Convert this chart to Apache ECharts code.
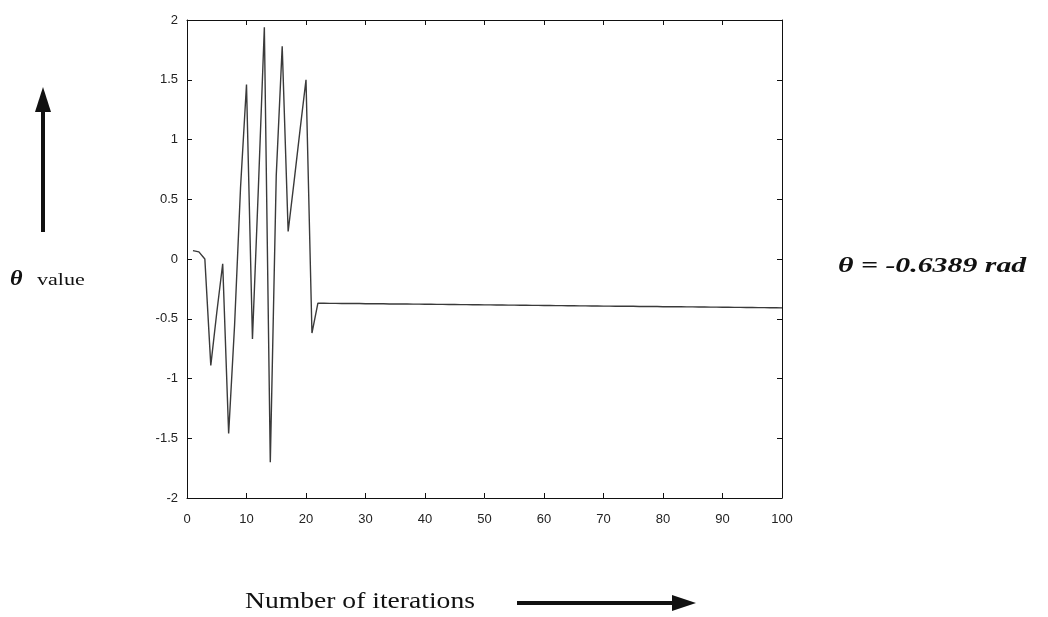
<!DOCTYPE html>
<html>
<head>
<meta charset="utf-8">
<script src="https://cdn.jsdelivr.net/npm/echarts@6/dist/echarts.min.js"></script>
<style>
html,body{margin:0;padding:0;background:#fff;}
#c{width:1048px;height:617px;}
</style>
</head>
<body>
<div id="c"></div>
<script>
// Iterations 1..100 and the theta value at each
const thetaValues = [
  0.07, 0.06, 0.00, -0.89, -0.45, -0.04, -1.46, -0.55, 0.60, 1.46,
  -0.67, 0.60, 1.94, -1.70, 0.70, 1.78, 0.23, 0.65, 1.08, 1.50,
  -0.62, -0.370, -0.370, -0.371, -0.371, -0.372, -0.372, -0.373, -0.373, -0.374,
  -0.374, -0.375, -0.375, -0.376, -0.376, -0.377, -0.377, -0.378, -0.378, -0.379,
  -0.379, -0.380, -0.380, -0.381, -0.381, -0.382, -0.382, -0.383, -0.383, -0.384,
  -0.384, -0.385, -0.385, -0.386, -0.386, -0.387, -0.387, -0.388, -0.388, -0.389,
  -0.389, -0.390, -0.390, -0.391, -0.391, -0.392, -0.392, -0.393, -0.393, -0.394,
  -0.394, -0.395, -0.395, -0.396, -0.396, -0.397, -0.397, -0.398, -0.398, -0.399,
  -0.399, -0.400, -0.400, -0.401, -0.401, -0.402, -0.402, -0.403, -0.403, -0.404,
  -0.404, -0.405, -0.405, -0.406, -0.406, -0.407, -0.407, -0.408, -0.408, -0.409
];
const xTicks = [0, 10, 20, 30, 40, 50, 60, 70, 80, 90, 100];
const yTicks = [-2, -1.5, -1, -0.5, 0, 0.5, 1, 1.5, 2];
const xLabel = 'Number of iterations';
const yLabelSymbol = 'θ';
const yLabelText = 'value';
const resultNote = 'θ = -0.6389 rad';

const seriesData = thetaValues.map((v, i) => [i + 1, v]);

const chart = echarts.init(document.getElementById('c'), null, {renderer: 'canvas'});
const labelFont = {fontFamily: 'Liberation Sans, Arial, sans-serif', fontSize: 13, color: '#222'};
const axisLine = {show: true, onZero: false, lineStyle: {color: '#111', width: 1}};
const tickIn = {show: true, inside: true, length: 5, lineStyle: {color: '#111', width: 1}};

chart.setOption({
  animation: false,
  backgroundColor: '#fff',
  grid: {left: 187, right: 266, top: 20, bottom: 119, containLabel: false},
  xAxis: [
    {type: 'value', min: 0, max: 100, interval: 10, position: 'bottom',
     axisLine: axisLine, axisTick: tickIn, splitLine: {show: false},
     axisLabel: Object.assign({margin: 15}, labelFont)},
    {type: 'value', min: 0, max: 100, interval: 10, position: 'top',
     axisLine: axisLine, axisTick: tickIn, splitLine: {show: false},
     axisLabel: {show: false}}
  ],
  yAxis: [
    {type: 'value', min: -2, max: 2, interval: 0.5, position: 'left',
     axisLine: axisLine, axisTick: tickIn, splitLine: {show: false},
     axisLabel: Object.assign({margin: 9}, labelFont)},
    {type: 'value', min: -2, max: 2, interval: 0.5, position: 'right',
     axisLine: axisLine, axisTick: tickIn, splitLine: {show: false},
     axisLabel: {show: false}}
  ],
  series: [{
    type: 'line',
    data: seriesData,
    xAxisIndex: 0, yAxisIndex: 0,
    showSymbol: false,
    lineStyle: {color: '#3a3a3a', width: 1.4},
    smooth: false
  }],
  graphic: [
    // up arrow (left)
    {type: 'line', shape: {x1: 43, y1: 232, x2: 43, y2: 108}, style: {stroke: '#111', lineWidth: 4}},
    {type: 'polygon', shape: {points: [[35, 112], [51, 112], [43, 87]]}, style: {fill: '#111'}},
    // theta value label
    {type: 'text', x: 10, y: 269, scaleX: 1.15, style: {text: yLabelSymbol, font: 'italic bold 21px "Liberation Serif", serif', fill: '#111'}},
    {type: 'text', x: 37, y: 272, scaleX: 1.3, style: {text: yLabelText, font: '17px "Liberation Serif", serif', fill: '#111'}},
    // result note (right)
    {type: 'text', x: 838, y: 256, scaleX: 1.42, style: {text: resultNote, font: 'italic bold 21px "Liberation Serif", serif', fill: '#111'}},
    // x label and arrow
    {type: 'text', x: 245, y: 590, scaleX: 1.2, style: {text: xLabel, font: '23px "Liberation Serif", serif', fill: '#111'}},
    {type: 'line', shape: {x1: 517, y1: 603, x2: 676, y2: 603}, style: {stroke: '#111', lineWidth: 4}},
    {type: 'polygon', shape: {points: [[672, 595], [672, 611], [696, 603]]}, style: {fill: '#111'}}
  ]
});
</script>
</body>
</html>
